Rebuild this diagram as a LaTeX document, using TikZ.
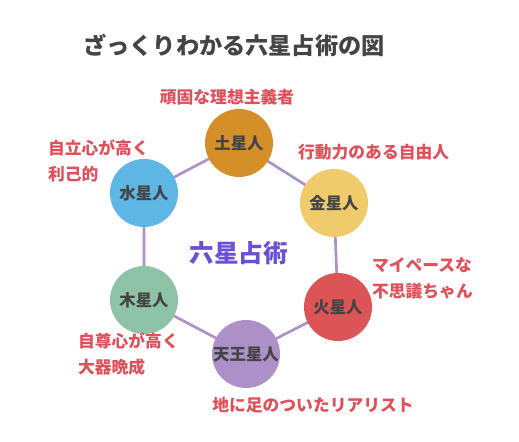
\documentclass[tikz,border=0pt]{standalone}
\usepackage{fontspec}
\setmainfont{Noto Sans CJK JP}
\usepackage{tikz}
\usetikzlibrary{positioning}

\definecolor{ttlgray}{HTML}{444444}
\definecolor{labred}{HTML}{E0505A}
\definecolor{midpurple}{HTML}{6B50D6}
\definecolor{linkpurple}{HTML}{AC92CB}
\definecolor{satcol}{HTML}{D58F28}
\definecolor{mercol}{HTML}{5DB6E4}
\definecolor{vencol}{HTML}{F0CB6C}
\definecolor{marcol}{HTML}{DC5455}
\definecolor{jupcol}{HTML}{8FC3A8}
\definecolor{uracol}{HTML}{AC90C7}

\begin{document}
\begin{tikzpicture}[
    x=0.03cm, y=-0.03cm,
    star/.style={circle,minimum size=2.04cm,inner sep=0pt,text=ttlgray,
        font=\fontsize{14}{16}\selectfont\bfseries},
    link/.style={linkpurple,line width=2.3pt},
    trait/.style={text=labred,font=\fontsize{14.3}{22}\selectfont\bfseries,
        align=left,inner sep=0pt}
]
\useasboundingbox (0,0) rectangle (519,442);

\node[text=ttlgray,font=\fontsize{19.8}{22}\selectfont\bfseries] (title) at (234,45) {ざっくりわかる六星占術の図};

% the six stars
\coordinate (psat) at (239,143);
\coordinate (pmer) at (144,193);
\coordinate (pven) at (334,203);
\coordinate (pmar) at (338,307);
\coordinate (pjup) at (144,300);
\coordinate (pura) at (246,354);

\draw[link] (psat) -- (pven) -- (pmar) -- (pura) -- (pjup) -- (pmer) -- cycle;

\node[star,fill=satcol] (sat) at (psat) {土星人};
\node[star,fill=mercol] (mer) at (pmer) {水星人};
\node[star,fill=vencol] (ven) at (pven) {金星人};
\node[star,fill=marcol] (mar) at (pmar) {火星人};
\node[star,fill=jupcol] (jup) at (pjup) {木星人};
\node[star,fill=uracol] (ura) at (pura) {天王星人};

\node[text=midpurple,font=\fontsize{21}{24}\selectfont\bfseries] (center) at (239,253) {六星占術};

% traits
\node[trait] (tsat) at (227,97) {頑固な理想主義者};
\node[trait,anchor=west] (tven) at (298,152) {行動力のある自由人};
\node[trait,anchor=west] (tmer) at (48,161) {自立心が高く\\利己的};
\node[trait,anchor=west] (tmar) at (372,278) {マイペースな\\不思議ちゃん};
\node[trait,anchor=west] (tjup) at (78,354) {自尊心が高く\\大器晩成};
\node[trait] (tura) at (313,405) {地に足のついたリアリスト};
\end{tikzpicture}
\end{document}
